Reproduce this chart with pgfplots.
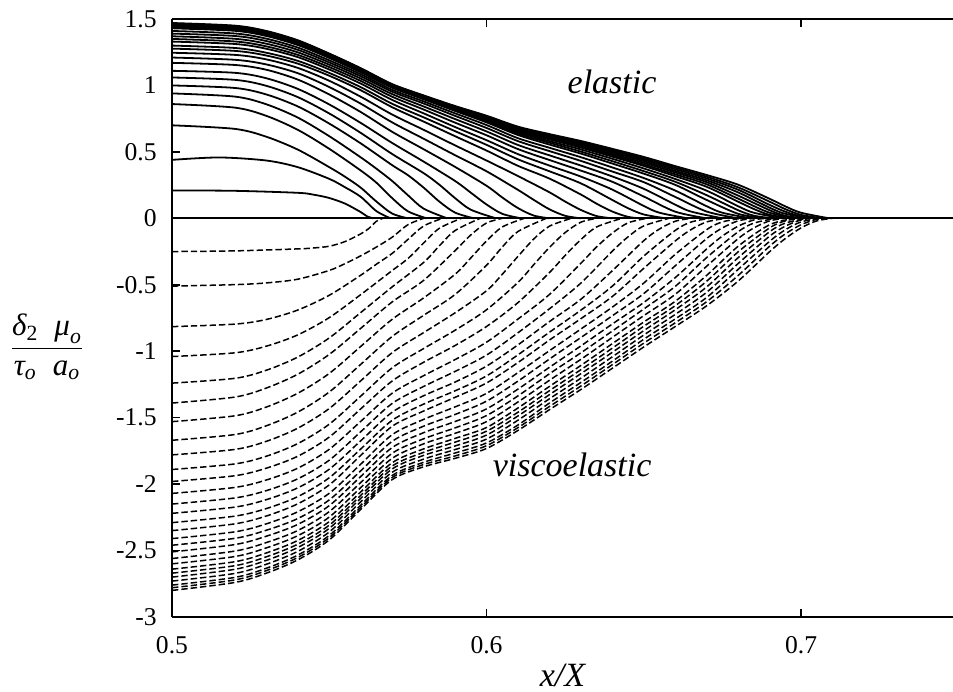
\documentclass[border=0pt]{standalone}
\usepackage{fontspec}
\setmainfont{Liberation Serif}
\usepackage{amsmath}
\usepackage{pgfplots}
\pgfplotsset{compat=1.18}
\pgfplotsset{
  el/.style={black, line width=0.9pt, smooth},
  ve/.style={black, line width=0.75pt, smooth, dash pattern=on 3.2pt off 1.5pt},
}
\begin{document}
\begin{tikzpicture}
\begin{axis}[
  scale only axis,
  width=390.5pt, height=299pt,
  xmin=0.5, xmax=0.7483, ymin=-3, ymax=1.5,
  axis x line*=box, axis y line*=left,
  axis line style={line width=0.8pt},
  tick align=inside, major tick length=4pt,
  tick style={line width=0.8pt, black},
  xtick={0.5,0.6,0.7}, xticklabels={0.5,0.6,0.7},
  ytick={-3,-2.5,-2,-1.5,-1,-0.5,0,0.5,1,1.5},
  yticklabels={-3,-2.5,-2,-1.5,-1,-0.5,0,0.5,1,1.5},
  ticklabel style={font=\fontsize{12.8}{14}\selectfont, inner sep=0pt},
  xticklabel style={yshift=-9.5pt},
  yticklabel style={xshift=-7.5pt},
  xlabel={\itshape x/X},
  every axis x label/.style={at={(rel axis cs:0.50,0)}, anchor=center, yshift=-29pt, font=\fontsize{17}{20}\selectfont},
  ylabel={$\dfrac{\textit{δ}_{\text{2}}\;\;\textit{μ}_{\textit{o}}}{\textit{τ}_{\textit{o}}\;\;\textit{a}_{\textit{o}}}$},
  every axis y label/.style={at={(rel axis cs:-0.160,0.4515)}, anchor=center, font=\fontsize{15.5}{18}\selectfont},
]
\coordinate (bl) at (rel axis cs:0,0);
\coordinate (tr) at (rel axis cs:1,1);

% zero line
\addplot[el] coordinates {(0.5,0) (0.7483,0)};

% elastic profiles
\addplot[el] coordinates {(0.50,0.210)(0.52,0.207)(0.54,0.192)(0.545,0.178)(0.55,0.153)(0.555,0.111)(0.56,0.047)(0.562,0.015)(0.564,0)};
\addplot[el] coordinates {(0.50,0.440)(0.515,0.458)(0.53,0.435)(0.54,0.385)(0.55,0.297)(0.555,0.234)(0.56,0.162)(0.565,0.054)(0.5695,0)};
\addplot[el] coordinates {(0.50,0.70)(0.52,0.673)(0.53,0.614)(0.54,0.517)(0.55,0.385)(0.555,0.313)(0.56,0.231)(0.565,0.126)(0.57,0.036)(0.575,0)};
\addplot[el] coordinates {(0.50,0.86)(0.52,0.833)(0.53,0.771)(0.54,0.666)(0.55,0.523)(0.56,0.360)(0.565,0.268)(0.57,0.152)(0.575,0.053)(0.581,0)};
\addplot[el] coordinates {(0.50,0.94)(0.52,0.916)(0.53,0.858)(0.54,0.758)(0.55,0.618)(0.56,0.459)(0.565,0.373)(0.57,0.281)(0.575,0.174)(0.58,0.073)(0.5875,0)};
\addplot[el] coordinates {(0.50,1.00)(0.52,0.981)(0.53,0.932)(0.54,0.842)(0.55,0.713)(0.56,0.564)(0.57,0.400)(0.575,0.325)(0.58,0.231)(0.585,0.126)(0.59,0.043)(0.596,0)};
\addplot[el] coordinates {(0.50,1.06)(0.52,1.042)(0.53,0.997)(0.54,0.912)(0.55,0.789)(0.56,0.643)(0.57,0.484)(0.58,0.340)(0.585,0.253)(0.59,0.152)(0.595,0.065)(0.603,0)};
\addplot[el] coordinates {(0.50,1.11)(0.52,1.095)(0.53,1.054)(0.54,0.974)(0.55,0.857)(0.56,0.718)(0.57,0.567)(0.58,0.427)(0.59,0.281)(0.595,0.193)(0.60,0.104)(0.605,0.034)(0.611,0)};
\addplot[el] coordinates {(0.50,1.17)(0.52,1.154)(0.53,1.118)(0.54,1.044)(0.55,0.932)(0.56,0.80)(0.57,0.651)(0.58,0.52)(0.59,0.387)(0.60,0.245)(0.605,0.157)(0.61,0.077)(0.615,0.021)(0.62,0)};
\addplot[el] coordinates {(0.50,1.21)(0.52,1.193)(0.53,1.158)(0.54,1.092)(0.55,0.988)(0.56,0.863)(0.57,0.722)(0.58,0.599)(0.59,0.475)(0.60,0.354)(0.61,0.214)(0.615,0.139)(0.62,0.068)(0.625,0.019)(0.63,0)};
\addplot[el] coordinates {(0.50,1.246)(0.52,1.23)(0.53,1.196)(0.54,1.132)(0.55,1.035)(0.56,0.915)(0.57,0.781)(0.58,0.666)(0.59,0.549)(0.60,0.435)(0.61,0.318)(0.62,0.196)(0.625,0.126)(0.63,0.063)(0.635,0.017)(0.64,0)};
\addplot[el] coordinates {(0.50,1.277)(0.52,1.26)(0.53,1.225)(0.54,1.164)(0.55,1.073)(0.56,0.964)(0.57,0.836)(0.58,0.728)(0.59,0.618)(0.60,0.51)(0.61,0.395)(0.62,0.299)(0.63,0.179)(0.635,0.11)(0.64,0.051)(0.645,0.011)(0.649,0)};
\addplot[el] coordinates {(0.50,1.30)(0.52,1.282)(0.53,1.246)(0.54,1.185)(0.55,1.094)(0.56,0.987)(0.57,0.862)(0.58,0.76)(0.59,0.656)(0.60,0.553)(0.61,0.444)(0.62,0.354)(0.63,0.263)(0.64,0.138)(0.645,0.076)(0.65,0.029)(0.657,0)};
\addplot[el] coordinates {(0.50,1.33)(0.52,1.312)(0.53,1.276)(0.54,1.213)(0.55,1.12)(0.56,1.014)(0.57,0.891)(0.58,0.79)(0.59,0.687)(0.60,0.588)(0.61,0.483)(0.62,0.397)(0.63,0.314)(0.64,0.216)(0.65,0.093)(0.655,0.042)(0.664,0)};
\addplot[el] coordinates {(0.50,1.35)(0.52,1.331)(0.53,1.294)(0.54,1.23)(0.55,1.138)(0.56,1.034)(0.57,0.915)(0.58,0.819)(0.59,0.72)(0.60,0.625)(0.61,0.521)(0.62,0.439)(0.63,0.359)(0.64,0.275)(0.65,0.164)(0.66,0.05)(0.67,0)};
\addplot[el] coordinates {(0.50,1.37)(0.52,1.351)(0.53,1.314)(0.54,1.249)(0.55,1.156)(0.56,1.052)(0.57,0.935)(0.58,0.842)(0.59,0.747)(0.60,0.654)(0.61,0.552)(0.62,0.474)(0.63,0.397)(0.64,0.315)(0.65,0.222)(0.66,0.103)(0.665,0.051)(0.675,0)};
\addplot[el] coordinates {(0.50,1.39)(0.52,1.372)(0.53,1.334)(0.54,1.268)(0.55,1.173)(0.56,1.069)(0.57,0.953)(0.58,0.864)(0.59,0.771)(0.60,0.68)(0.61,0.581)(0.62,0.506)(0.63,0.432)(0.64,0.352)(0.65,0.272)(0.66,0.161)(0.67,0.051)(0.68,0)};
\addplot[el] coordinates {(0.50,1.41)(0.52,1.391)(0.53,1.352)(0.54,1.285)(0.55,1.189)(0.56,1.084)(0.57,0.967)(0.58,0.88)(0.59,0.79)(0.60,0.702)(0.61,0.603)(0.62,0.531)(0.63,0.46)(0.64,0.383)(0.65,0.303)(0.66,0.209)(0.67,0.091)(0.675,0.042)(0.684,0)};
\addplot[el] coordinates {(0.50,1.43)(0.52,1.411)(0.53,1.372)(0.54,1.304)(0.55,1.207)(0.56,1.099)(0.57,0.983)(0.58,0.896)(0.59,0.808)(0.60,0.722)(0.61,0.627)(0.62,0.555)(0.63,0.487)(0.64,0.412)(0.65,0.336)(0.66,0.252)(0.67,0.138)(0.68,0.034)(0.688,0)};
\addplot[el] coordinates {(0.50,1.435)(0.52,1.415)(0.53,1.376)(0.54,1.308)(0.55,1.21)(0.56,1.103)(0.57,0.986)(0.58,0.90)(0.59,0.815)(0.60,0.731)(0.61,0.637)(0.62,0.569)(0.63,0.502)(0.64,0.43)(0.65,0.355)(0.66,0.275)(0.67,0.174)(0.68,0.061)(0.685,0.02)(0.691,0)};
\addplot[el] coordinates {(0.50,1.44)(0.52,1.421)(0.53,1.382)(0.54,1.313)(0.55,1.215)(0.56,1.107)(0.57,0.99)(0.58,0.905)(0.59,0.821)(0.60,0.741)(0.61,0.648)(0.62,0.581)(0.63,0.518)(0.64,0.448)(0.65,0.375)(0.66,0.296)(0.67,0.208)(0.68,0.091)(0.685,0.042)(0.694,0)};
\addplot[el] coordinates {(0.50,1.445)(0.52,1.425)(0.53,1.386)(0.54,1.317)(0.55,1.219)(0.56,1.111)(0.57,0.993)(0.58,0.909)(0.59,0.826)(0.60,0.747)(0.61,0.656)(0.62,0.594)(0.63,0.532)(0.64,0.464)(0.65,0.394)(0.66,0.317)(0.67,0.237)(0.68,0.125)(0.685,0.07)(0.69,0.026)(0.697,0)};
\addplot[el] coordinates {(0.50,1.45)(0.52,1.43)(0.53,1.39)(0.54,1.321)(0.55,1.223)(0.56,1.114)(0.57,0.996)(0.58,0.912)(0.59,0.83)(0.60,0.753)(0.61,0.663)(0.62,0.601)(0.63,0.541)(0.64,0.475)(0.65,0.405)(0.66,0.331)(0.67,0.256)(0.68,0.148)(0.69,0.042)(0.699,0)};
\addplot[el] coordinates {(0.50,1.455)(0.52,1.436)(0.53,1.396)(0.54,1.327)(0.55,1.228)(0.56,1.119)(0.57,1.0)(0.58,0.916)(0.59,0.834)(0.60,0.758)(0.61,0.67)(0.62,0.609)(0.63,0.551)(0.64,0.485)(0.65,0.418)(0.66,0.345)(0.67,0.272)(0.68,0.171)(0.69,0.061)(0.695,0.019)(0.701,0)};
\addplot[el] coordinates {(0.50,1.46)(0.52,1.44)(0.53,1.40)(0.54,1.331)(0.55,1.231)(0.56,1.122)(0.57,1.003)(0.58,0.919)(0.59,0.837)(0.60,0.762)(0.61,0.675)(0.62,0.616)(0.63,0.559)(0.64,0.496)(0.65,0.43)(0.66,0.357)(0.67,0.286)(0.68,0.195)(0.69,0.08)(0.695,0.034)(0.703,0)};
\addplot[el] coordinates {(0.50,1.463)(0.52,1.443)(0.53,1.403)(0.54,1.333)(0.55,1.234)(0.56,1.124)(0.57,1.005)(0.58,0.92)(0.59,0.84)(0.60,0.766)(0.61,0.68)(0.62,0.623)(0.63,0.567)(0.64,0.505)(0.65,0.441)(0.66,0.37)(0.67,0.30)(0.68,0.215)(0.69,0.101)(0.695,0.05)(0.70,0.014)(0.705,0)};
\addplot[el] coordinates {(0.50,1.466)(0.52,1.446)(0.53,1.406)(0.54,1.336)(0.55,1.236)(0.56,1.127)(0.57,1.007)(0.58,0.922)(0.59,0.842)(0.60,0.769)(0.61,0.685)(0.62,0.628)(0.63,0.575)(0.64,0.514)(0.65,0.451)(0.66,0.382)(0.67,0.313)(0.68,0.233)(0.69,0.125)(0.695,0.069)(0.70,0.026)(0.707,0)};
\addplot[el] coordinates {(0.50,1.47)(0.52,1.45)(0.53,1.41)(0.54,1.34)(0.55,1.24)(0.56,1.13)(0.57,1.01)(0.58,0.925)(0.59,0.845)(0.60,0.772)(0.61,0.69)(0.62,0.634)(0.63,0.582)(0.64,0.523)(0.65,0.462)(0.66,0.393)(0.67,0.326)(0.68,0.253)(0.69,0.147)(0.695,0.09)(0.70,0.042)(0.709,0)};

% viscoelastic profiles
\addplot[ve] coordinates {(0.50,-0.25)(0.52,-0.245)(0.54,-0.23)(0.545,-0.223)(0.55,-0.21)(0.555,-0.175)(0.56,-0.117)(0.5625,-0.078)(0.565,-0.022)(0.567,0)};
\addplot[ve] coordinates {(0.50,-0.51)(0.52,-0.499)(0.53,-0.486)(0.54,-0.458)(0.55,-0.392)(0.555,-0.341)(0.56,-0.282)(0.565,-0.216)(0.57,-0.142)(0.575,-0.048)(0.58,0)};
\addplot[ve] coordinates {(0.50,-0.815)(0.52,-0.796)(0.53,-0.761)(0.54,-0.69)(0.55,-0.579)(0.56,-0.428)(0.565,-0.345)(0.57,-0.264)(0.575,-0.159)(0.58,-0.058)(0.586,0)};
\addplot[ve] coordinates {(0.50,-1.04)(0.52,-1.012)(0.53,-0.962)(0.54,-0.877)(0.55,-0.747)(0.56,-0.574)(0.57,-0.393)(0.575,-0.303)(0.58,-0.186)(0.585,-0.075)(0.592,0)};
\addplot[ve] coordinates {(0.50,-1.24)(0.52,-1.204)(0.53,-1.143)(0.54,-1.044)(0.55,-0.90)(0.56,-0.709)(0.57,-0.516)(0.58,-0.332)(0.585,-0.207)(0.59,-0.092)(0.598,0)};
\addplot[ve] coordinates {(0.50,-1.39)(0.52,-1.345)(0.53,-1.277)(0.54,-1.173)(0.55,-1.024)(0.56,-0.828)(0.57,-0.629)(0.58,-0.467)(0.59,-0.243)(0.595,-0.125)(0.60,-0.035)(0.605,0)};
\addplot[ve] coordinates {(0.50,-1.53)(0.52,-1.486)(0.53,-1.42)(0.54,-1.316)(0.55,-1.167)(0.56,-0.964)(0.57,-0.76)(0.58,-0.599)(0.59,-0.421)(0.595,-0.298)(0.60,-0.17)(0.605,-0.065)(0.612,0)};
\addplot[ve] coordinates {(0.50,-1.67)(0.52,-1.627)(0.53,-1.561)(0.54,-1.458)(0.55,-1.307)(0.56,-1.099)(0.57,-0.889)(0.58,-0.73)(0.59,-0.573)(0.60,-0.353)(0.605,-0.216)(0.61,-0.099)(0.619,0)};
\addplot[ve] coordinates {(0.50,-1.78)(0.52,-1.739)(0.53,-1.678)(0.54,-1.579)(0.55,-1.431)(0.56,-1.223)(0.57,-1.011)(0.58,-0.86)(0.59,-0.711)(0.60,-0.545)(0.605,-0.421)(0.61,-0.286)(0.615,-0.156)(0.62,-0.059)(0.627,0)};
\addplot[ve] coordinates {(0.50,-1.89)(0.52,-1.848)(0.53,-1.79)(0.54,-1.695)(0.55,-1.549)(0.56,-1.338)(0.57,-1.125)(0.58,-0.98)(0.59,-0.842)(0.60,-0.688)(0.61,-0.482)(0.615,-0.349)(0.62,-0.219)(0.625,-0.107)(0.63,-0.029)(0.635,0)};
\addplot[ve] coordinates {(0.50,-1.98)(0.52,-1.937)(0.53,-1.88)(0.54,-1.79)(0.55,-1.646)(0.56,-1.434)(0.57,-1.224)(0.58,-1.083)(0.59,-0.957)(0.60,-0.814)(0.61,-0.634)(0.62,-0.408)(0.625,-0.279)(0.63,-0.16)(0.635,-0.065)(0.643,0)};
\addplot[ve] coordinates {(0.50,-2.07)(0.52,-2.025)(0.53,-1.969)(0.54,-1.88)(0.55,-1.738)(0.56,-1.528)(0.57,-1.316)(0.58,-1.184)(0.59,-1.063)(0.60,-0.932)(0.61,-0.758)(0.62,-0.573)(0.63,-0.338)(0.635,-0.215)(0.64,-0.111)(0.645,-0.034)(0.651,0)};
\addplot[ve] coordinates {(0.50,-2.15)(0.52,-2.104)(0.53,-2.049)(0.54,-1.96)(0.55,-1.82)(0.56,-1.606)(0.57,-1.393)(0.58,-1.265)(0.59,-1.152)(0.60,-1.029)(0.61,-0.861)(0.62,-0.681)(0.63,-0.487)(0.64,-0.247)(0.645,-0.139)(0.65,-0.057)(0.658,0)};
\addplot[ve] coordinates {(0.50,-2.22)(0.52,-2.173)(0.53,-2.117)(0.54,-2.028)(0.55,-1.888)(0.56,-1.674)(0.57,-1.459)(0.58,-1.335)(0.59,-1.232)(0.60,-1.112)(0.61,-0.952)(0.62,-0.777)(0.63,-0.609)(0.64,-0.394)(0.65,-0.168)(0.655,-0.08)(0.66,-0.022)(0.665,0)};
\addplot[ve] coordinates {(0.50,-2.29)(0.52,-2.241)(0.53,-2.184)(0.54,-2.094)(0.55,-1.952)(0.56,-1.736)(0.57,-1.52)(0.58,-1.398)(0.59,-1.298)(0.60,-1.186)(0.61,-1.027)(0.62,-0.857)(0.63,-0.691)(0.64,-0.51)(0.65,-0.284)(0.66,-0.091)(0.665,-0.028)(0.671,0)};
\addplot[ve] coordinates {(0.50,-2.35)(0.52,-2.299)(0.53,-2.24)(0.54,-2.148)(0.55,-2.006)(0.56,-1.784)(0.57,-1.565)(0.58,-1.45)(0.59,-1.347)(0.60,-1.239)(0.61,-1.085)(0.62,-0.916)(0.63,-0.755)(0.64,-0.588)(0.65,-0.376)(0.66,-0.17)(0.665,-0.085)(0.67,-0.027)(0.676,0)};
\addplot[ve] coordinates {(0.50,-2.41)(0.52,-2.359)(0.53,-2.299)(0.54,-2.208)(0.55,-2.069)(0.56,-1.85)(0.57,-1.628)(0.58,-1.513)(0.59,-1.419)(0.60,-1.317)(0.61,-1.161)(0.62,-0.996)(0.63,-0.833)(0.64,-0.668)(0.65,-0.487)(0.66,-0.271)(0.67,-0.085)(0.675,-0.027)(0.681,0)};
\addplot[ve] coordinates {(0.50,-2.46)(0.52,-2.408)(0.53,-2.347)(0.54,-2.259)(0.55,-2.119)(0.56,-1.90)(0.57,-1.678)(0.58,-1.564)(0.59,-1.476)(0.60,-1.376)(0.61,-1.225)(0.62,-1.059)(0.63,-0.897)(0.64,-0.733)(0.65,-0.566)(0.66,-0.357)(0.67,-0.152)(0.675,-0.072)(0.68,-0.019)(0.685,0)};
\addplot[ve] coordinates {(0.50,-2.51)(0.52,-2.455)(0.53,-2.392)(0.54,-2.303)(0.55,-2.162)(0.56,-1.943)(0.57,-1.725)(0.58,-1.613)(0.59,-1.529)(0.60,-1.434)(0.61,-1.285)(0.62,-1.121)(0.63,-0.96)(0.64,-0.795)(0.65,-0.633)(0.66,-0.446)(0.67,-0.23)(0.675,-0.133)(0.68,-0.059)(0.685,-0.012)(0.689,0)};
\addplot[ve] coordinates {(0.50,-2.56)(0.52,-2.504)(0.53,-2.44)(0.54,-2.349)(0.55,-2.207)(0.56,-1.988)(0.57,-1.768)(0.58,-1.659)(0.59,-1.577)(0.60,-1.484)(0.61,-1.336)(0.62,-1.17)(0.63,-1.012)(0.64,-0.848)(0.65,-0.682)(0.66,-0.512)(0.67,-0.295)(0.68,-0.101)(0.685,-0.036)(0.692,0)};
\addplot[ve] coordinates {(0.50,-2.60)(0.52,-2.545)(0.53,-2.48)(0.54,-2.388)(0.55,-2.248)(0.56,-2.026)(0.57,-1.806)(0.58,-1.697)(0.59,-1.618)(0.60,-1.53)(0.61,-1.382)(0.62,-1.219)(0.63,-1.061)(0.64,-0.896)(0.65,-0.732)(0.66,-0.572)(0.67,-0.36)(0.68,-0.153)(0.685,-0.072)(0.69,-0.019)(0.695,0)};
\addplot[ve] coordinates {(0.50,-2.64)(0.52,-2.584)(0.53,-2.518)(0.54,-2.424)(0.55,-2.282)(0.56,-2.059)(0.57,-1.839)(0.58,-1.735)(0.59,-1.656)(0.60,-1.574)(0.61,-1.427)(0.62,-1.265)(0.63,-1.107)(0.64,-0.943)(0.65,-0.78)(0.66,-0.624)(0.67,-0.429)(0.68,-0.21)(0.69,-0.048)(0.698,0)};
\addplot[ve] coordinates {(0.50,-2.67)(0.52,-2.614)(0.53,-2.547)(0.54,-2.452)(0.55,-2.309)(0.56,-2.085)(0.57,-1.864)(0.58,-1.761)(0.59,-1.684)(0.60,-1.602)(0.61,-1.459)(0.62,-1.297)(0.63,-1.139)(0.64,-0.977)(0.65,-0.812)(0.66,-0.657)(0.67,-0.473)(0.68,-0.252)(0.69,-0.072)(0.695,-0.019)(0.70,0)};
\addplot[ve] coordinates {(0.50,-2.70)(0.52,-2.641)(0.53,-2.574)(0.54,-2.477)(0.55,-2.333)(0.56,-2.107)(0.57,-1.886)(0.58,-1.784)(0.59,-1.713)(0.60,-1.631)(0.61,-1.487)(0.62,-1.327)(0.63,-1.169)(0.64,-1.008)(0.65,-0.845)(0.66,-0.688)(0.67,-0.516)(0.68,-0.296)(0.69,-0.101)(0.695,-0.036)(0.702,0)};
\addplot[ve] coordinates {(0.50,-2.73)(0.52,-2.672)(0.53,-2.603)(0.54,-2.506)(0.55,-2.36)(0.56,-2.133)(0.57,-1.911)(0.58,-1.812)(0.59,-1.74)(0.60,-1.661)(0.61,-1.519)(0.62,-1.358)(0.63,-1.203)(0.64,-1.042)(0.65,-0.878)(0.66,-0.723)(0.67,-0.556)(0.68,-0.34)(0.69,-0.134)(0.695,-0.059)(0.70,-0.012)(0.704,0)};
\addplot[ve] coordinates {(0.50,-2.76)(0.52,-2.702)(0.53,-2.633)(0.54,-2.534)(0.55,-2.386)(0.56,-2.159)(0.57,-1.935)(0.58,-1.836)(0.59,-1.766)(0.60,-1.69)(0.61,-1.555)(0.62,-1.39)(0.63,-1.235)(0.64,-1.075)(0.65,-0.91)(0.66,-0.757)(0.67,-0.595)(0.68,-0.384)(0.69,-0.173)(0.695,-0.086)(0.70,-0.027)(0.706,0)};
\addplot[ve] coordinates {(0.50,-2.78)(0.52,-2.721)(0.53,-2.651)(0.54,-2.552)(0.55,-2.403)(0.56,-2.175)(0.57,-1.95)(0.58,-1.853)(0.59,-1.788)(0.60,-1.711)(0.61,-1.575)(0.62,-1.416)(0.63,-1.262)(0.64,-1.101)(0.65,-0.939)(0.66,-0.786)(0.67,-0.627)(0.68,-0.43)(0.69,-0.21)(0.695,-0.117)(0.70,-0.048)(0.705,-0.007)(0.708,0)};
\addplot[ve] coordinates {(0.50,-2.80)(0.52,-2.74)(0.53,-2.67)(0.54,-2.57)(0.55,-2.42)(0.56,-2.19)(0.57,-1.966)(0.58,-1.87)(0.59,-1.806)(0.60,-1.732)(0.61,-1.596)(0.62,-1.44)(0.63,-1.288)(0.64,-1.128)(0.65,-0.968)(0.66,-0.814)(0.67,-0.658)(0.68,-0.472)(0.69,-0.251)(0.695,-0.152)(0.70,-0.072)(0.705,-0.019)(0.71,0)};

\node[font=\fontsize{17}{20}\selectfont\itshape] at (axis cs:0.6399,1.03) {elastic};
\node[font=\fontsize{17}{20}\selectfont\itshape] at (axis cs:0.6272,-1.856) {viscoelastic};
\end{axis}
\pgfresetboundingbox
\useasboundingbox ([shift={(-86pt,-37pt)}]bl) rectangle ([shift={(0pt,9.5pt)}]tr);
\end{tikzpicture}
\end{document}
